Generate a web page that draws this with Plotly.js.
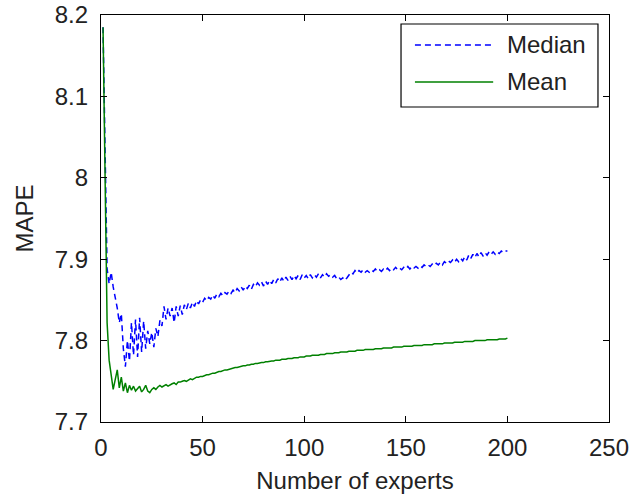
<!DOCTYPE html>
<html>
<head>
<meta charset="utf-8">
<script src="https://cdn.plot.ly/plotly-3.0.1.min.js"></script>
<style>html,body{margin:0;padding:0;background:#fff;}#chart{width:644px;height:494px;}</style>
</head>
<body>
<div id="chart"></div>
<script>
// Number of experts (x)
const experts = Array.from({length: 200}, (_, i) => i + 1);

// MAPE of the mean combination, experts 1..200
const meanMAPE = [
8.185,8.010,7.822,7.776,7.760,7.740,7.752,7.764,7.742,7.755,
7.738,7.748,7.736,7.745,7.739,7.744,7.738,7.741,7.744,7.737,
7.740,7.745,7.738,7.736,7.740,7.742,7.740,7.743,7.745,7.743,
7.745,7.746,7.744,7.746,7.747,7.748,7.746,7.749,7.749,7.750,
7.751,7.750,7.752,7.753,7.752,7.754,7.755,7.755,7.756,7.756,
7.757,7.758,7.758,7.759,7.760,7.760,7.761,7.762,7.762,7.763,
7.764,7.764,7.765,7.765,7.766,7.767,7.767,7.768,7.768,7.769,
7.769,7.770,7.770,7.771,7.771,7.772,7.772,7.773,7.773,7.773,
7.774,7.774,7.775,7.775,7.775,7.776,7.776,7.776,7.777,7.777,
7.777,7.778,7.778,7.778,7.779,7.779,7.779,7.780,7.780,7.780,
7.781,7.781,7.781,7.782,7.782,7.782,7.782,7.783,7.783,7.783,
7.784,7.784,7.784,7.784,7.785,7.785,7.785,7.786,7.786,7.786,
7.786,7.787,7.787,7.787,7.787,7.788,7.788,7.788,7.788,7.789,
7.789,7.789,7.789,7.789,7.790,7.790,7.790,7.790,7.791,7.791,
7.791,7.791,7.791,7.792,7.792,7.792,7.792,7.792,7.793,7.793,
7.793,7.793,7.793,7.794,7.794,7.794,7.794,7.794,7.795,7.795,
7.795,7.795,7.795,7.796,7.796,7.796,7.796,7.796,7.797,7.797,
7.797,7.797,7.797,7.798,7.798,7.798,7.798,7.798,7.799,7.799,
7.799,7.799,7.799,7.800,7.800,7.800,7.800,7.800,7.800,7.801,
7.801,7.801,7.801,7.801,7.801,7.802,7.802,7.802,7.802,7.803
];

// MAPE of the median combination, experts 1..200
const medianMAPE = [
8.185,8.005,7.888,7.870,7.884,7.866,7.855,7.840,7.822,7.833,
7.790,7.768,7.800,7.775,7.822,7.782,7.826,7.780,7.828,7.786,
7.824,7.790,7.812,7.796,7.810,7.792,7.815,7.805,7.825,7.818,
7.842,7.826,7.840,7.830,7.840,7.822,7.842,7.830,7.843,7.832,
7.844,7.838,7.846,7.840,7.847,7.842,7.849,7.845,7.850,7.847,
7.852,7.849,7.853,7.851,7.856,7.852,7.857,7.854,7.858,7.855,
7.859,7.857,7.861,7.858,7.862,7.859,7.864,7.861,7.866,7.862,
7.867,7.864,7.868,7.863,7.869,7.866,7.871,7.868,7.872,7.867,
7.873,7.869,7.874,7.870,7.875,7.871,7.876,7.872,7.877,7.873,
7.878,7.874,7.879,7.875,7.880,7.876,7.880,7.875,7.881,7.877,
7.880,7.876,7.881,7.877,7.881,7.878,7.882,7.877,7.881,7.878,
7.882,7.879,7.881,7.878,7.880,7.876,7.878,7.875,7.877,7.874,
7.877,7.880,7.884,7.882,7.886,7.883,7.886,7.884,7.887,7.884,
7.886,7.884,7.887,7.885,7.888,7.885,7.887,7.885,7.888,7.886,
7.889,7.886,7.889,7.887,7.890,7.887,7.889,7.887,7.890,7.888,
7.891,7.888,7.891,7.889,7.891,7.889,7.892,7.890,7.893,7.891,
7.893,7.891,7.894,7.892,7.895,7.893,7.896,7.893,7.897,7.895,
7.898,7.896,7.899,7.896,7.900,7.897,7.901,7.898,7.903,7.899,
7.905,7.901,7.906,7.902,7.907,7.903,7.908,7.904,7.908,7.905,
7.909,7.906,7.909,7.906,7.909,7.907,7.910,7.908,7.910,7.910
];

const seriesNames = ["Median", "Mean"];
const xTickVals = [0, 50, 100, 150, 200, 250];
const yTickVals = [7.7, 7.8, 7.9, 8.0, 8.1, 8.2];
const yTickText = ["7.7", "7.8", "7.9", "8", "8.1", "8.2"];
const xTitle = "Number of experts";
const yTitle = "MAPE";

const FONT = "'Liberation Sans', Arial, sans-serif";
const BLUE = "rgb(0,0,255)";
const GREEN = "rgb(0,128,0)";

const traces = [
  {x: experts, y: medianMAPE, name: seriesNames[0], type: "scatter", mode: "lines",
   line: {color: BLUE, width: 1.5, dash: "6px,4px"}},
  {x: experts, y: meanMAPE, name: seriesNames[1], type: "scatter", mode: "lines",
   line: {color: GREEN, width: 1.5}}
];

// manual legend box (paper coords)
const lgX0 = 0.5906, lgX1 = 0.9783, lgY0 = 0.774, lgY1 = 0.9779;
const lnX0 = 0.618, lnX1 = 0.772, rowY = [0.9263, 0.8354];

const axisCommon = {
  showline: true, linecolor: "black", linewidth: 1.2, mirror: "ticks",
  ticks: "inside", ticklen: 6, tickwidth: 1.2, tickcolor: "black",
  showgrid: false, zeroline: false, automargin: false,
  tickfont: {family: FONT, size: 24, color: "#222"}
};

const layout = {
  width: 644, height: 494,
  margin: {l: 101, r: 35, t: 15, b: 72, pad: 0},
  paper_bgcolor: "white", plot_bgcolor: "white",
  showlegend: false,
  font: {family: FONT, size: 24, color: "#222"},
  xaxis: Object.assign({}, axisCommon, {
    range: [0, 250], tickvals: xTickVals,
    ticklabelstandoff: 4,
    title: {text: xTitle, font: {family: FONT, size: 24, color: "#222"}, standoff: 12}
  }),
  yaxis: Object.assign({}, axisCommon, {
    range: [7.7, 8.2], tickvals: yTickVals, ticktext: yTickText,
    ticklabelstandoff: 7,
    title: {text: yTitle, font: {family: FONT, size: 24, color: "#222"}, standoff: 14}
  }),
  shapes: [
    {type: "rect", xref: "paper", yref: "paper", x0: lgX0, x1: lgX1, y0: lgY0, y1: lgY1,
     line: {color: "black", width: 1.2}, fillcolor: "white", layer: "above"},
    {type: "line", xref: "paper", yref: "paper", x0: lnX0, x1: lnX1, y0: rowY[0], y1: rowY[0],
     line: {color: BLUE, width: 1.5, dash: "6px,4px"}, layer: "above"},
    {type: "line", xref: "paper", yref: "paper", x0: lnX0, x1: lnX1, y0: rowY[1], y1: rowY[1],
     line: {color: GREEN, width: 1.5}, layer: "above"}
  ],
  annotations: seriesNames.map((n, i) => ({
    xref: "paper", yref: "paper", x: 0.795, y: rowY[i], xanchor: "left", yanchor: "middle",
    text: n, showarrow: false, font: {family: FONT, size: 24, color: "#222"}
  }))
};

Plotly.newPlot("chart", traces, layout, {displayModeBar: false, staticPlot: true});
</script>
</body>
</html>
